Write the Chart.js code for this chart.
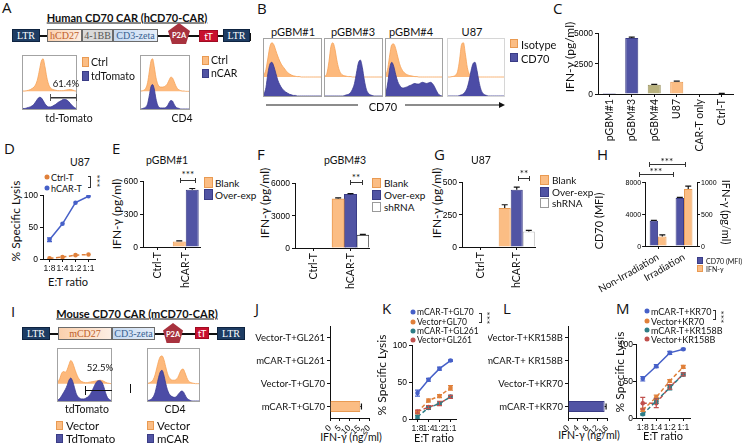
<!DOCTYPE html>
<html lang="en">
<head>
  <meta charset="UTF-8" />
  <title>CD70 CAR-T panels</title>
  <script src="https://cdn.jsdelivr.net/npm/chart.js"></script>
  <style>
    body { margin: 0; background: #fff; font-family: Lato, 'Open Sans', sans-serif; color: #111; }
    #fig { position: relative; width: 744px; height: 444px; overflow: hidden; }
    .plot { position: absolute; }
    .t { position: absolute; white-space: nowrap; line-height: 1; }
    .c { transform: translate(-50%, -50%); }
    .l { transform: translateY(-50%); }
    .r { transform: translate(-100%, -50%); }
    .num { font-family: 'Liberation Sans', Arial, sans-serif; color: #000; }
    .yt { transform: translate(-50%, -50%) rotate(-90deg); font-size: 12px; }
    .yr { transform: translate(-50%, -50%) rotate(90deg); font-size: 11px; }
    .letter { position: absolute; font-family: 'Open Sans', sans-serif; font-size: 15px; line-height: 1; }
    .sq { position: absolute; box-sizing: border-box; }
    .or { background: #fbbd84; border: 1px solid #e99a52; }
    .pu { background: #5154a4; border: 1px solid #3a3c86; }
    .wh { background: #fff; border: 1px solid #9a9a9a; }
    .hist { position: absolute; border: 1px solid #a3a3a3; box-sizing: border-box; }
    .hist canvas { display: block; }
    .ln { position: absolute; background: #111; }
    .seg { position: absolute; box-sizing: border-box; border: 1px solid #6b6b6b; font-family: 'Liberation Serif', serif;
           font-size: 10px; display: flex; align-items: center; justify-content: center; }
    .ltr { background: #1d3c63; color: #fff; border-color: #0e2340; }
    .cd27 { background: linear-gradient(90deg, #fbd0ad, #fdeee3); color: #c0602a; }
    .bb { background: #d9d9d9; color: #555; }
    .zeta { background: linear-gradient(90deg, #c5d9f1, #e6eef9); color: #365f91; }
    .tt { background: #c8102e; color: #fff; font-family: Lato, sans-serif; border-color: #9e0c22; }
    .p2a { background: #a8323e; color: #fff; border: none; font-family: Lato, sans-serif; font-size: 7.5px; font-weight: bold;
           clip-path: polygon(50% 0, 100% 38%, 82% 100%, 18% 100%, 0 38%); padding-top: 3px; }
    .ttl { font-weight: bold; font-size: 11px; text-decoration: underline; }
    .brk { position: absolute; box-sizing: border-box; border: 1px solid #333; border-left: none; }
    .bar { position: absolute; height: 5px; box-sizing: border-box; border-left: 1px solid #333; border-right: 1px solid #333;
           background: linear-gradient(#333, #333) center / 100% 1px no-repeat; }
    .stars { font-size: 10px; }
    .vstars { font-size: 10px; transform: translate(-50%, -50%) rotate(90deg); }
    .dot { position: absolute; width: 5px; height: 5px; border-radius: 50%; transform: translate(-50%, -50%); }
  </style>
</head>
<body>
<div id="fig">
  <!-- panel letters -->
  <div class="letter" style="left:2px;top:0px">A</div>
  <div class="letter" style="left:257px;top:1px">B</div>
  <div class="letter" style="left:553px;top:1px">C</div>
  <div class="letter" style="left:4px;top:141px">D</div>
  <div class="letter" style="left:112px;top:141px">E</div>
  <div class="letter" style="left:257px;top:147px">F</div>
  <div class="letter" style="left:434px;top:147px">G</div>
  <div class="letter" style="left:597px;top:147px">H</div>
  <div class="letter" style="left:11px;top:304px">I</div>
  <div class="letter" style="left:255px;top:301px">J</div>
  <div class="letter" style="left:382px;top:301px">K</div>
  <div class="letter" style="left:503px;top:301px">L</div>
  <div class="letter" style="left:616px;top:301px">M</div>

  <!-- A construct -->
  <div class="t c ttl" style="left:127px;top:17px">Human CD70 CAR (hCD70-CAR)</div>
  <div class="ln" style="left:12px;top:35px;width:238px;height:1.5px"></div>
  <div class="seg ltr" style="left:12px;top:29px;width:28px;height:13px">LTR</div>
  <div class="seg cd27" style="left:47px;top:29px;width:35px;height:13px">hCD27</div>
  <div class="seg bb" style="left:82px;top:29px;width:31px;height:13px">4-1BB</div>
  <div class="seg zeta" style="left:113px;top:29px;width:45px;height:13px">CD3-zeta</div>
  <div class="seg p2a" style="left:168px;top:23px;width:22px;height:21px">P2A</div>
  <div class="seg tt" style="left:199px;top:30px;width:19px;height:12px">tT</div>
  <div class="seg ltr" style="left:223px;top:29px;width:27px;height:13px">LTR</div>
  <div class="ln" style="left:250px;top:33px;width:1px;height:8px"></div>

  <!-- A flow -->
  <div class="hist" style="left:22px;top:55px;width:55px;height:55px"><canvas id="hA1" width="53" height="53"></canvas></div>
  <div class="hist" style="left:140px;top:55px;width:50px;height:55px"><canvas id="hA2" width="48" height="53"></canvas></div>
  <div class="t c" style="left:66px;top:84px;font-size:9.5px">61.4%</div>
  <div class="bar" style="left:50px;top:94px;width:27px;height:7px;background-size:100% 1.5px;border-color:#555"></div>
  <div class="t c" style="left:69px;top:118px;font-size:10.5px">td-Tomato</div>
  <div class="t c" style="left:182px;top:118px;font-size:10.5px">CD4</div>
  <div class="sq or" style="left:82px;top:57px;width:7px;height:10px"></div>
  <div class="t l" style="left:91px;top:62px;font-size:10.5px">Ctrl</div>
  <div class="sq pu" style="left:82px;top:71px;width:7px;height:10px"></div>
  <div class="t l" style="left:91px;top:76px;font-size:10.5px">tdTomato</div>
  <div class="sq or" style="left:202px;top:56px;width:7px;height:9px"></div>
  <div class="t l" style="left:211px;top:60px;font-size:10.5px">Ctrl</div>
  <div class="sq pu" style="left:202px;top:69px;width:7px;height:9px"></div>
  <div class="t l" style="left:211px;top:73px;font-size:10.5px">nCAR</div>

  <!-- B flow -->
  <div class="t c" style="left:293px;top:31px;font-size:11px">pGBM#1</div>
  <div class="t c" style="left:353px;top:31px;font-size:11px">pGBM#3</div>
  <div class="t c" style="left:411px;top:31px;font-size:11px">pGBM#4</div>
  <div class="t c" style="left:472px;top:31px;font-size:11px">U87</div>
  <div class="hist" style="left:263px;top:38px;width:59px;height:59px"><canvas id="hB1" width="57" height="57"></canvas></div>
  <div class="hist" style="left:324px;top:38px;width:59px;height:59px"><canvas id="hB3" width="57" height="57"></canvas></div>
  <div class="hist" style="left:385px;top:38px;width:58px;height:59px"><canvas id="hB4" width="56" height="57"></canvas></div>
  <div class="hist" style="left:447px;top:38px;width:58px;height:59px;border-color:#d6d6d6"><canvas id="hB5" width="56" height="57"></canvas></div>
  <div class="ln" style="left:266px;top:104px;width:92px;height:2px;background:#8c8c8c"></div>
  <div class="t c" style="left:383px;top:106px;font-size:11px">CD70</div>
  <div class="ln" style="left:405px;top:104px;width:95px;height:2px;background:#8c8c8c"></div>
  <div style="position:absolute;left:499px;top:102px;width:0;height:0;border-left:6px solid #111;border-top:3px solid transparent;border-bottom:3px solid transparent"></div>
  <div class="sq or" style="left:510px;top:39px;width:8px;height:9px"></div>
  <div class="t l" style="left:521px;top:44px;font-size:11px">Isotype</div>
  <div class="sq pu" style="left:510px;top:53px;width:8px;height:9px"></div>
  <div class="t l" style="left:521px;top:58px;font-size:11px">CD70</div>

  <!-- C -->
  <div class="t yt" style="left:570px;top:57px">IFN-γ (pg/ml)</div>
  <canvas class="plot" id="cvC" width="176" height="125" style="left:562px;top:26px"></canvas>

  <!-- D -->
  <div class="t c" style="left:80px;top:162px;font-size:10.5px">U87</div>
  <div class="dot" style="left:47px;top:177px;background:#e0803a"></div>
  <div class="t l" style="left:51px;top:177px;font-size:9px">Ctrl-T</div>
  <div class="dot" style="left:47px;top:188px;background:#4660c8"></div>
  <div class="t l" style="left:51px;top:188px;font-size:9px">hCAR-T</div>
  <div class="brk" style="left:88px;top:176px;width:3px;height:12px"></div>
  <div class="t vstars" style="left:97px;top:181px">***</div>
  <div class="t yt" style="left:16px;top:221px">% Specific Lysis</div>
  <div class="t c" style="left:68px;top:281px;font-size:11px">E:T ratio</div>
  <canvas class="plot" id="cvD" width="91" height="99" style="left:9px;top:188px"></canvas>

  <!-- E -->
  <div class="t c" style="left:167px;top:160px;font-size:10.5px">pGBM#1</div>
  <div class="t c stars" style="left:188px;top:174px">***</div>
  <div class="bar" style="left:180px;top:178px;width:16px"></div>
  <div class="sq or" style="left:204px;top:177px;width:9px;height:11px"></div>
  <div class="t l" style="left:215px;top:183px;font-size:10px">Blank</div>
  <div class="sq pu" style="left:204px;top:189px;width:9px;height:11px"></div>
  <div class="t l" style="left:215px;top:195px;font-size:10px">Over-exp</div>
  <div class="t yt" style="left:117px;top:214px">IFN-γ (pg/ml)</div>
  <canvas class="plot" id="cvE" width="97" height="118" style="left:110px;top:172px"></canvas>

  <!-- F -->
  <div class="t c" style="left:345px;top:160px;font-size:10.5px">pGBM#3</div>
  <div class="t c stars" style="left:356px;top:177px">**</div>
  <div class="bar" style="left:350px;top:180px;width:13px"></div>
  <div class="sq or" style="left:372px;top:178px;width:9px;height:10px"></div>
  <div class="t l" style="left:384px;top:183px;font-size:10px">Blank</div>
  <div class="sq pu" style="left:372px;top:190px;width:9px;height:10px"></div>
  <div class="t l" style="left:384px;top:195px;font-size:10px">Over-exp</div>
  <div class="sq wh" style="left:372px;top:202px;width:9px;height:10px"></div>
  <div class="t l" style="left:384px;top:207px;font-size:10px">shRNA</div>
  <div class="t yt" style="left:265px;top:203px">IFN-γ (pg/ml)</div>
  <canvas class="plot" id="cvF" width="117" height="115" style="left:258px;top:175px"></canvas>

  <!-- G -->
  <div class="t c" style="left:481px;top:160px;font-size:10.5px">U87</div>
  <div class="t c stars" style="left:524px;top:173px">**</div>
  <div class="bar" style="left:518px;top:176px;width:12px"></div>
  <div class="sq or" style="left:540px;top:175px;width:9px;height:10px"></div>
  <div class="t l" style="left:552px;top:180px;font-size:10px">Blank</div>
  <div class="sq pu" style="left:540px;top:187px;width:9px;height:10px"></div>
  <div class="t l" style="left:552px;top:192px;font-size:10px">Over-exp</div>
  <div class="sq wh" style="left:540px;top:198px;width:9px;height:10px"></div>
  <div class="t l" style="left:552px;top:203px;font-size:10px">shRNA</div>
  <div class="t yt" style="left:437px;top:203px">IFN-γ (pg/ml)</div>
  <canvas class="plot" id="cvG" width="110" height="116" style="left:430px;top:174px"></canvas>

  <!-- H -->
  <div class="t c stars" style="left:667px;top:161px">***</div>
  <div class="bar" style="left:649px;top:162px;width:37px"></div>
  <div class="t c stars" style="left:656px;top:171px">***</div>
  <div class="bar" style="left:639px;top:172px;width:35px"></div>
  <div class="t yt" style="left:598px;top:221px;font-size:11px">CD70 (MFI)</div>
  <div class="t yr" style="left:726px;top:212px">IFN-γ (pg/ml)</div>
  <canvas class="plot" id="cvH" width="142" height="121" style="left:591px;top:174px"></canvas>
  <div class="sq pu" style="left:697px;top:257px;width:6px;height:7px"></div>
  <div class="t l" style="left:706px;top:261px;font-size:7px">CD70 (MFI)</div>
  <div class="sq or" style="left:697px;top:265px;width:6px;height:7px"></div>
  <div class="t l" style="left:706px;top:269px;font-size:7px">IFN-γ</div>

  <!-- I construct -->
  <div class="t c ttl" style="left:137px;top:313px">Mouse CD70 CAR (mCD70-CAR)</div>
  <div class="ln" style="left:22px;top:333px;width:223px;height:1.5px"></div>
  <div class="seg ltr" style="left:22px;top:327px;width:28px;height:13px">LTR</div>
  <div class="seg cd27" style="left:58px;top:327px;width:54px;height:13px">mCD27</div>
  <div class="seg zeta" style="left:112px;top:327px;width:43px;height:13px">CD3-zeta</div>
  <div class="seg p2a" style="left:163px;top:323px;width:20px;height:20px">P2A</div>
  <div class="seg tt" style="left:195px;top:327px;width:14px;height:12px">tT</div>
  <div class="seg ltr" style="left:217px;top:327px;width:28px;height:13px">LTR</div>

  <!-- I flow -->
  <div class="hist" style="left:57px;top:348px;width:55px;height:54px"><canvas id="hI1" width="53" height="52"></canvas></div>
  <div class="hist" style="left:147px;top:348px;width:53px;height:54px"><canvas id="hI2" width="51" height="52"></canvas></div>
  <div class="t c" style="left:100px;top:368px;font-size:9.5px">52.5%</div>
  <div class="ln" style="left:85px;top:390px;width:27px;height:1px"></div>
  <div class="ln" style="left:85px;top:386px;width:1px;height:9px"></div>
  <div class="ln" style="left:130px;top:384px;width:1px;height:9px"></div>
  <div class="t c" style="left:87px;top:409px;font-size:10.5px">tdTomato</div>
  <div class="t c" style="left:175px;top:409px;font-size:10.5px">CD4</div>
  <div class="sq or" style="left:56px;top:421px;width:7px;height:9px"></div>
  <div class="t l" style="left:66px;top:426px;font-size:11.5px">Vector</div>
  <div class="sq pu" style="left:56px;top:434px;width:7px;height:9px"></div>
  <div class="t l" style="left:66px;top:439px;font-size:11.5px">TdTomato</div>
  <div class="sq or" style="left:147px;top:421px;width:7px;height:9px"></div>
  <div class="t l" style="left:157px;top:426px;font-size:11.5px">Vector</div>
  <div class="sq pu" style="left:147px;top:434px;width:7px;height:9px"></div>
  <div class="t l" style="left:157px;top:439px;font-size:11.5px">mCAR</div>

  <!-- J, K, L, M -->
  <div class="t c" style="left:351px;top:437px;font-size:10.5px">IFN-γ (ng/ml)</div>
  <canvas class="plot" id="cvJ" width="128" height="124" style="left:250px;top:318px"></canvas>
  <div class="dot" style="left:413px;top:312px;background:#4660c8"></div>
  <div class="t l" style="left:417px;top:312px;font-size:8.5px">mCAR-T+GL70</div>
  <div class="dot" style="left:413px;top:321.5px;background:#e0803a"></div>
  <div class="t l" style="left:417px;top:321.5px;font-size:8.5px">Vector+GL70</div>
  <div class="dot" style="left:413px;top:331px;background:#2e7d86"></div>
  <div class="t l" style="left:417px;top:331px;font-size:8.5px">mCAR-T+GL261</div>
  <div class="dot" style="left:413px;top:340px;background:#c0504d"></div>
  <div class="t l" style="left:417px;top:340px;font-size:8.5px">Vector+GL261</div>
  <div class="brk" style="left:479px;top:313px;width:3px;height:10px"></div>
  <div class="t vstars" style="left:487px;top:318px">***</div>
  <div class="t yt" style="left:382px;top:375px">% Specific Lysis</div>
  <div class="t c" style="left:434px;top:437px;font-size:11px">E:T ratio</div>
  <canvas class="plot" id="cvK" width="84" height="105" style="left:376px;top:338px"></canvas>

  <div class="t c" style="left:589px;top:435px;font-size:10.5px">IFN-γ (ng/ml)</div>
  <canvas class="plot" id="cvL" width="128" height="124" style="left:488px;top:318px"></canvas>
  <div class="dot" style="left:647px;top:311px;background:#4660c8"></div>
  <div class="t l" style="left:651px;top:311px;font-size:9px">mCAR-T+KR70</div>
  <div class="dot" style="left:647px;top:320.5px;background:#e0803a"></div>
  <div class="t l" style="left:651px;top:320.5px;font-size:9px">Vector+KR70</div>
  <div class="dot" style="left:647px;top:330px;background:#2e7d86"></div>
  <div class="t l" style="left:651px;top:330px;font-size:9px">mCAR-T+KR158B</div>
  <div class="dot" style="left:647px;top:339px;background:#c0504d"></div>
  <div class="t l" style="left:651px;top:339px;font-size:9px">Vector+KR158B</div>
  <div class="brk" style="left:713px;top:310px;width:3px;height:10px"></div>
  <div class="t vstars" style="left:721px;top:317px">***</div>
  <div class="t yt" style="left:620px;top:372px">% Specific Lysis</div>
  <div class="t c" style="left:663px;top:435px;font-size:11px">E:T ratio</div>
  <canvas class="plot" id="cvM" width="80" height="104" style="left:614px;top:337px"></canvas>
</div>

<script>
  // ---- flow histograms (height in % of panel track) ----
  const binsA1Ctrl = [1,1,2,3,5,8,12,20,35,60,85,92,70,40,20,10,6,4,3,2,2,2,2,3,4,5,5,4,2,1];
  const binsA1Car  = [1,1,2,3,4,6,9,14,19,22,21,16,10,6,4,4,5,7,9,12,14,16,18,18,17,14,10,6,3,1];
  const binsA2Ctrl = [1,2,4,10,25,55,85,92,70,40,22,14,12,12,13,16,22,32,40,38,28,16,8,4,2,1,1,0,0,0];
  const binsA2Car  = [0,1,2,4,10,25,42,46,38,20,8,3,2,2,2,3,6,12,16,15,9,4,2,1,0,0,0,0,0,0];
  const binsB1Iso  = [5,20,50,80,90,85,70,55,42,32,25,18,12,8,5,3,2,1,1,0,0,0,0,0,0,0,0,0,0,0];
  const binsB1Cd70 = [3,15,40,56,59,52,40,28,20,14,10,7,5,3,2,1,1,0,0,0,0,0,0,0,0,0,0,0,0,0];
  const binsB3Iso  = [2,10,40,80,90,75,45,22,10,5,3,2,1,1,0,0,0,0,0,0,0,0,0,0,0,0,0,0,0,0];
  const binsB3Cd70 = [0,0,0,0,0,0,0,0,0,0,1,2,3,6,12,22,40,58,63,50,28,12,5,2,1,0,0,0,0,0];
  const binsB4Iso  = [5,25,60,85,87,75,55,35,22,14,9,6,4,3,2,1,1,0,0,0,0,0,0,0,0,0,0,0,0,0];
  const binsB4Cd70 = [5,25,50,59,52,38,26,19,15,14,15,16,18,19,21,22,21,21,23,24,23,22,23,24,22,17,10,4,1,0];
  const binsB5Iso  = [0,0,1,2,5,15,45,85,90,60,25,8,3,1,0,0,0,0,0,0,0,0,0,0,0,0,0,0,0,0];
  const binsB5Cd70 = [0,0,0,0,0,0,1,2,4,8,15,28,45,57,59,45,26,12,5,2,1,0,0,0,0,0,0,0,0,0];
  const binsI1Vec  = [5,15,30,35,33,40,55,67,60,45,30,18,10,6,4,3,3,4,5,6,7,8,9,10,9,7,4,2,1,0];
  const binsI1Car  = [2,5,10,16,22,30,40,44,38,26,14,8,5,4,4,5,7,10,15,22,30,36,39,39,36,28,16,7,3,1];
  const binsI2Vec  = [1,3,6,12,25,45,65,78,80,70,50,30,18,12,10,10,12,18,30,40,42,32,18,8,4,2,1,0,0,0];
  const binsI2Car  = [1,2,4,8,16,30,45,56,59,50,35,22,14,10,8,7,8,12,16,19,18,12,6,3,1,0,0,0,0,0];

  // ---- C ----
  const cTargets = ['pGBM#1', 'pGBM#3', 'pGBM#4', 'U87', 'CAR-T only', 'Ctrl-T'];
  const cIfng    = [10, 4600, 750, 1000, 0, 40];
  const cIfngErr = [0, 70, 40, 50, 0, 15];
  const cTicks   = [0, 2500, 5000];

  // ---- D, K, M: cytotoxicity ----
  const ratios = ['1:8', '1:4', '1:2', '1:1'];
  const lysisTicks = [0, 50, 100];
  const dCtrlT = [1, 3, 6, 7];
  const dHcarT = [30, 55, 88, 98];
  const kCarGl70 = [35, 53, 68, 79];
  const kVecGl70 = [9, 25, 31, 42];
  const kCarGl261 = [3, 15, 21, 30];
  const kVecGl261 = [10, 16, 21, 30];
  const mCarKr70 = [53, 70, 88, 93];
  const mVecKr70 = [11, 28, 50, 69];
  const mCarKr158 = [5, 23, 41, 59];
  const mVecKr158 = [20, 20, 42, 59];

  // ---- E, F, G ----
  const effectors = ['Ctrl-T', 'hCAR-T'];
  const eBlank = [0, 50],   eBlankErr = [0, 5];
  const eOver  = [0, 520],  eOverErr  = [0, 12];
  const eTicks = [0, 300, 600];
  const fBlank = [0, 4550], fBlankErr = [0, 70];
  const fOver  = [0, 4950], fOverErr  = [0, 70];
  const fShrna = [0, 1200], fShrnaErr = [0, 50];
  const fTicks = [0, 3000, 6000];
  const gBlank = [0, 300],  gBlankErr = [0, 25];
  const gOver  = [0, 440],  gOverErr  = [0, 20];
  const gShrna = [0, 120],  gShrnaErr = [0, 8];
  const gTicks = [0, 250, 500];

  // ---- H ----
  const hGroups = ['Non-Irradiation', 'Irradiation'];
  const hCd70 = [3150, 6000], hCd70Err = [60, 90];
  const hIfng = [150, 890],   hIfngErr = [25, 45];
  const hCd70Ticks = [0, 4000, 8000];
  const hIfngTicks = [0, 500, 1000];

  // ---- J, L ----
  const jGroups = ['Vector-T+GL261', 'mCAR-T+GL261', 'Vector-T+GL70', 'mCAR-T+GL70'];
  const jIfng = [0, 0, 0, 15.5], jIfngErr = [0, 0, 0, 0.6];
  const jTicks = [0, 5, 10, 15, 20];
  const lGroups = ['Vector-T+KR158B', 'mCAR-T+ KR158B', 'Vector-T+KR70', 'mCAR-T+KR70'];
  const lIfng = [0, 0, 0, 15], lIfngErr = [0, 0, 0, 0.6];
  const lTicks = [0, 4, 8, 12, 16];

  const ORANGE = '#fbbd84', ORANGE_B = '#e99a52';
  const PURPLE = '#5154a4', PURPLE_B = '#3a3c86';
  const OLIVE = '#b9b27e';
  const AX = '#111';
  const NUM_FONT = 'Liberation Sans, Arial, sans-serif';
  const fig = document.getElementById('fig');

  Chart.defaults.font.family = 'Lato, sans-serif';
  Chart.defaults.color = '#111';
  Chart.defaults.animation = false;
  Chart.defaults.responsive = false;
  Chart.defaults.events = [];
  Chart.defaults.plugins.legend.display = false;
  Chart.defaults.plugins.tooltip.enabled = false;

  const errorBars = {
    id: 'errorBars',
    afterDatasetsDraw(chart) {
      const ctx = chart.ctx;
      const horizontal = chart.options.indexAxis === 'y';
      chart.data.datasets.forEach((ds, i) => {
        if (!ds.errors) return;
        const meta = chart.getDatasetMeta(i);
        const scale = chart.scales[horizontal ? meta.xAxisID : meta.yAxisID];
        const isLine = meta.type === 'line';
        meta.data.forEach((el, j) => {
          const err = ds.errors[j];
          if (!err) return;
          const v = ds.data[j];
          const hi = scale.getPixelForValue(v + err);
          const lo = isLine ? scale.getPixelForValue(v - err) : (horizontal ? el.x : el.y);
          const cap = isLine ? 2.5 : 3;
          ctx.save();
          ctx.strokeStyle = ds.errorColor || '#111';
          ctx.lineWidth = 1.2;
          ctx.beginPath();
          if (horizontal) {
            ctx.moveTo(lo, el.y); ctx.lineTo(hi, el.y);
            ctx.moveTo(hi, el.y - cap); ctx.lineTo(hi, el.y + cap);
          } else {
            ctx.moveTo(el.x, lo); ctx.lineTo(el.x, hi);
            ctx.moveTo(el.x - cap, hi); ctx.lineTo(el.x + cap, hi);
            if (isLine) { ctx.moveTo(el.x - cap, lo); ctx.lineTo(el.x + cap, lo); }
          }
          ctx.stroke();
          ctx.restore();
        });
      });
    }
  };

  // write the numbers of a vertical value axis as page text, one per tick of the scale
  function axisNumbers(chart, id, values, size, pad) {
    const scale = chart.scales[id];
    const c = chart.canvas;
    const left = parseFloat(c.style.left), top = parseFloat(c.style.top);
    const onLeft = scale.position === 'left';
    values.forEach(v => {
      const d = document.createElement('div');
      d.className = 't num ' + (onLeft ? 'r' : 'l');
      d.textContent = String(v);
      d.style.fontSize = size + 'px';
      d.style.left = (left + (onLeft ? scale.right - 3 - pad : scale.left + 3 + pad)) + 'px';
      d.style.top = (top + scale.getPixelForValue(v)) + 'px';
      fig.appendChild(d);
    });
  }

  function histogram(id, upper, lower) {
    new Chart(document.getElementById(id), {
      type: 'line',
      data: {
        labels: upper.map((_, i) => i),
        datasets: [
          { data: lower, yAxisID: 'yLow', backgroundColor: '#4c4ca6', borderColor: '#3a3a90', borderWidth: 0.8,
            fill: 'origin', pointRadius: 0, cubicInterpolationMode: 'monotone' },
          { data: upper, yAxisID: 'yUp', backgroundColor: '#fdb97c', borderColor: '#f6a257', borderWidth: 0.8,
            fill: 'origin', pointRadius: 0, cubicInterpolationMode: 'monotone' }
        ]
      },
      options: {
        layout: { padding: 0 },
        scales: {
          x: { display: false },
          yUp: { display: false, min: -50, max: 100 },
          yLow: { display: false, min: 0, max: 100 }
        }
      }
    });
  }

  // numeric axis; size = fixed box width (vertical) or height (horizontal)
  function valueAxis(o) {
    return {
      type: 'linear',
      position: o.position || (o.horizontal ? 'bottom' : 'left'),
      min: o.ticks[0], max: o.ticks[o.ticks.length - 1],
      afterBuildTicks: s => { s.ticks = o.ticks.map(v => ({ value: v })); },
      ticks: { display: !!o.horizontal, autoSkip: false, font: { family: NUM_FONT, size: 8.5 },
               color: AX, padding: 2, callback: v => String(v) },
      grid: { drawOnChartArea: false, color: AX, tickLength: 3 },
      border: { color: AX },
      afterFit: s => { if (o.horizontal) s.height = o.size; else s.width = o.size; }
    };
  }

  function groupAxis(o) {
    return {
      type: 'category',
      position: o.vertical ? 'left' : 'bottom',
      offset: true,
      ticks: { font: { size: o.font || 10.5, family: o.family }, minRotation: o.rot || 0, maxRotation: o.rot || 0,
               autoSkip: false, padding: o.pad === undefined ? 2 : o.pad, color: '#111' },
      grid: { drawOnChartArea: false, offset: false, color: AX, tickLength: 3 },
      border: { color: AX },
      afterFit: s => { if (o.vertical) s.width = o.size; else s.height = o.size; }
    };
  }

  function bars(label, data, errors, fill, border) {
    return { label, data, errors, backgroundColor: fill, borderColor: border, borderWidth: 1 };
  }

  function line(label, data, color, dashed, errors) {
    return { label, data, errors, errorColor: color, borderColor: color, backgroundColor: color, borderWidth: 1.5,
             borderDash: dashed ? [4, 2.5] : [], pointRadius: 2.3, pointBorderWidth: 0 };
  }

  histogram('hA1', binsA1Ctrl, binsA1Car);
  histogram('hA2', binsA2Ctrl, binsA2Car);
  histogram('hB1', binsB1Iso, binsB1Cd70);
  histogram('hB3', binsB3Iso, binsB3Cd70);
  histogram('hB4', binsB4Iso, binsB4Cd70);
  histogram('hB5', binsB5Iso, binsB5Cd70);
  histogram('hI1', binsI1Vec, binsI1Car);
  histogram('hI2', binsI2Vec, binsI2Car);

  // C  (plot area x 598-733, y 33-94)
  const chartC = new Chart(document.getElementById('cvC'), {
    type: 'bar',
    data: {
      labels: cTargets,
      datasets: [bars('IFN-γ', cIfng, cIfngErr,
        [PURPLE, PURPLE, OLIVE, ORANGE, PURPLE, PURPLE],
        [PURPLE_B, PURPLE_B, '#9a9360', ORANGE_B, PURPLE_B, PURPLE_B])]
    },
    options: {
      layout: { padding: { top: 7, right: 5 } },
      datasets: { bar: { barPercentage: 1, categoryPercentage: 0.58 } },
      scales: {
        x: groupAxis({ rot: 90, size: 57 }),
        y: valueAxis({ ticks: cTicks, size: 36 })
      }
    },
    plugins: [errorBars]
  });
  axisNumbers(chartC, 'y', cTicks, 8.5, 2);

  // D  (plot area x 43-95, y 195-259)
  const chartD = new Chart(document.getElementById('cvD'), {
    type: 'line',
    data: {
      labels: ratios,
      datasets: [
        line('hCAR-T', dHcarT, '#4660c8', false, [3, 0, 0, 0]),
        line('Ctrl-T', dCtrlT, '#e0803a', true)
      ]
    },
    options: {
      layout: { padding: { top: 7, right: 5 } },
      scales: {
        x: groupAxis({ size: 28, font: 8.5, family: NUM_FONT }),
        y: valueAxis({ ticks: lysisTicks, size: 34 })
      }
    },
    plugins: [errorBars]
  });
  axisNumbers(chartD, 'y', lysisTicks, 8.5, 2);

  // E  (plot area x 143-200, y 181-247)
  const chartE = new Chart(document.getElementById('cvE'), {
    type: 'bar',
    data: {
      labels: effectors,
      datasets: [
        bars('Blank', eBlank, eBlankErr, ORANGE, ORANGE_B),
        bars('Over-exp', eOver, eOverErr, PURPLE, PURPLE_B)
      ]
    },
    options: {
      layout: { padding: { top: 9, right: 7 } },
      datasets: { bar: { barPercentage: 1, categoryPercentage: 0.91 } },
      scales: {
        x: groupAxis({ rot: 90, size: 43 }),
        y: valueAxis({ ticks: eTicks, size: 33 })
      }
    },
    plugins: [errorBars]
  });
  axisNumbers(chartE, 'y', eTicks, 8.5, 2);

  // F  (plot area x 295-369, y 183-248)
  const chartF = new Chart(document.getElementById('cvF'), {
    type: 'bar',
    data: {
      labels: effectors,
      datasets: [
        bars('Blank', fBlank, fBlankErr, ORANGE, ORANGE_B),
        bars('Over-exp', fOver, fOverErr, PURPLE, PURPLE_B),
        bars('shRNA', fShrna, fShrnaErr, '#fff', '#333')
      ]
    },
    options: {
      layout: { padding: { top: 8, right: 6 } },
      datasets: { bar: { barPercentage: 1, categoryPercentage: 1 } },
      scales: {
        x: groupAxis({ rot: 90, size: 42 }),
        y: valueAxis({ ticks: fTicks, size: 37 })
      }
    },
    plugins: [errorBars]
  });
  axisNumbers(chartF, 'y', fTicks, 8.5, 2);

  // G  (plot area x 462-535, y 182-247)
  const chartG = new Chart(document.getElementById('cvG'), {
    type: 'bar',
    data: {
      labels: effectors,
      datasets: [
        bars('Blank', gBlank, gBlankErr, ORANGE, ORANGE_B),
        bars('Over-exp', gOver, gOverErr, PURPLE, PURPLE_B),
        bars('shRNA', gShrna, gShrnaErr, '#fff', '#bbb')
      ]
    },
    options: {
      layout: { padding: { top: 8, right: 5 } },
      datasets: { bar: { barPercentage: 1, categoryPercentage: 0.99 } },
      scales: {
        x: groupAxis({ rot: 90, size: 43 }),
        y: valueAxis({ ticks: gTicks, size: 32 })
      }
    },
    plugins: [errorBars]
  });
  axisNumbers(chartG, 'y', gTicks, 8.5, 2);

  // H  (plot area x 617-697, y 182-246)
  const chartH = new Chart(document.getElementById('cvH'), {
    type: 'bar',
    data: {
      labels: hGroups,
      datasets: [
        Object.assign(bars('CD70 (MFI)', hCd70, hCd70Err, PURPLE, PURPLE_B), { yAxisID: 'y' }),
        Object.assign(bars('IFN-γ', hIfng, hIfngErr, ORANGE, ORANGE_B), { yAxisID: 'y2' })
      ]
    },
    options: {
      layout: { padding: { top: 8 } },
      datasets: { bar: { barPercentage: 1, categoryPercentage: 0.65 } },
      scales: {
        x: groupAxis({ rot: 30, size: 49, font: 10 }),
        y: valueAxis({ position: 'left', ticks: hCd70Ticks, size: 26 }),
        y2: valueAxis({ position: 'right', ticks: hIfngTicks, size: 36 })
      }
    },
    plugins: [errorBars]
  });
  axisNumbers(chartH, 'y', hCd70Ticks, 7, 1);
  axisNumbers(chartH, 'y2', hIfngTicks, 7, 1);

  // J  (plot area x 330-372, y 326-418)
  new Chart(document.getElementById('cvJ'), {
    type: 'bar',
    data: { labels: jGroups, datasets: [bars('IFN-γ', jIfng, jIfngErr, ORANGE, ORANGE_B)] },
    options: {
      indexAxis: 'y',
      layout: { padding: { top: 8, right: 6 } },
      datasets: { bar: { barPercentage: 1, categoryPercentage: 0.48 } },
      scales: {
        x: valueAxis({ ticks: jTicks, size: 24, horizontal: true }),
        y: groupAxis({ vertical: true, size: 80, font: 9.5 })
      }
    },
    plugins: [errorBars]
  });

  // K  (plot area x 412-457, y 345-419)
  const chartK = new Chart(document.getElementById('cvK'), {
    type: 'line',
    data: {
      labels: ratios,
      datasets: [
        line('mCAR-T+GL70', kCarGl70, '#4660c8', false, [4, 2, 2, 1]),
        line('Vector+GL70', kVecGl70, '#e0803a', true, [2, 2, 2, 3]),
        line('mCAR-T+GL261', kCarGl261, '#2e7d86', true, [2, 2, 2, 2]),
        line('Vector+GL261', kVecGl261, '#c0504d', true, [2, 2, 3, 2])
      ]
    },
    options: {
      layout: { padding: { top: 7, right: 3 } },
      scales: {
        x: groupAxis({ size: 24, font: 8.5, family: NUM_FONT }),
        y: valueAxis({ ticks: lysisTicks, size: 36 })
      }
    },
    plugins: [errorBars]
  });
  axisNumbers(chartK, 'y', lysisTicks, 8.5, 2);

  // L  (plot area x 568-610, y 326-418)
  new Chart(document.getElementById('cvL'), {
    type: 'bar',
    data: { labels: lGroups, datasets: [bars('IFN-γ', lIfng, lIfngErr, PURPLE, PURPLE_B)] },
    options: {
      indexAxis: 'y',
      layout: { padding: { top: 8, right: 6 } },
      datasets: { bar: { barPercentage: 1, categoryPercentage: 0.48 } },
      scales: {
        x: valueAxis({ ticks: lTicks, size: 24, horizontal: true }),
        y: groupAxis({ vertical: true, size: 80, font: 9.5 })
      }
    },
    plugins: [errorBars]
  });

  // M  (plot area x 636-690, y 344-418)
  const chartM = new Chart(document.getElementById('cvM'), {
    type: 'line',
    data: {
      labels: ratios,
      datasets: [
        line('mCAR-T+KR70', mCarKr70, '#4660c8', false, [3, 2, 2, 1]),
        line('Vector+KR70', mVecKr70, '#e0803a', true, [2, 3, 2, 2]),
        line('mCAR-T+KR158B', mCarKr158, '#2e7d86', true, [1, 3, 3, 2]),
        line('Vector+KR158B', mVecKr158, '#c0504d', true, [8, 6, 3, 2])
      ]
    },
    options: {
      layout: { padding: { top: 7, right: 4 } },
      scales: {
        x: groupAxis({ size: 23, font: 8.5, family: NUM_FONT }),
        y: valueAxis({ ticks: lysisTicks, size: 22 })
      }
    },
    plugins: [errorBars]
  });
  axisNumbers(chartM, 'y', lysisTicks, 8.5, 0);
</script>
</body>
</html>
